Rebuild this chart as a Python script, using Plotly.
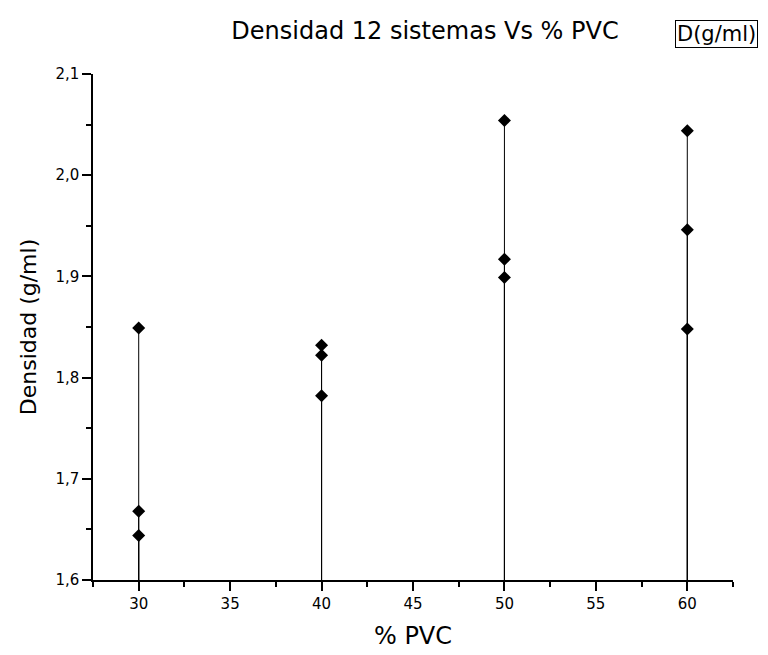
import plotly.graph_objects as go

# Data
pvc = [30, 30, 30, 40, 40, 40, 50, 50, 50, 60, 60, 60]
densidad = [1.849, 1.668, 1.644, 1.832, 1.822, 1.782,
            2.054, 1.917, 1.899, 2.044, 1.946, 1.848]
y_min, y_max = 1.6, 2.1
x_min, x_max = 27.5, 62.5
series_name = "D(g/ml)"

# Drop lines from each point down to the axis base
drop_x, drop_y = [], []
for xv, yv in zip(pvc, densidad):
    drop_x += [xv, xv, None]
    drop_y += [y_min, yv, None]

FONT = "DejaVu Sans, Liberation Sans, Arial, sans-serif"

fig = go.Figure()
fig.add_trace(go.Scatter(x=drop_x, y=drop_y, mode="lines",
                         line=dict(color="black", width=1),
                         hoverinfo="skip", showlegend=False))
fig.add_trace(go.Scatter(x=pvc, y=densidad, mode="markers", name=series_name,
                         marker=dict(symbol="diamond", size=10, color="black"),
                         showlegend=False, cliponaxis=False))

# page body has an 8px margin; layout numbers below are compensated for it
fig.update_layout(
    width=768, height=655,
    paper_bgcolor="white", plot_bgcolor="white",
    margin=dict(l=85, r=43, t=66, b=83),
    separators=",.",
    font=dict(family=FONT, color="black"),
    title=dict(text="Densidad 12 sistemas Vs % PVC", x=417/768, xanchor="center",
               y=1 - 23/655, yanchor="middle", font=dict(size=24, family=FONT)),
    annotations=[dict(text=series_name, xref="paper", yref="paper",
                      x=(667 - 85) / 640, y=(572 - 26) / 506,
                      xanchor="left", yanchor="middle", showarrow=False,
                      bordercolor="black", borderwidth=1, borderpad=1,
                      font=dict(size=21, family=FONT))],
)
fig.update_xaxes(range=[x_min, x_max], tick0=30, dtick=5, showgrid=False, zeroline=False,
                 showline=True, linecolor="black", linewidth=1.5,
                 ticks="outside", ticklen=9, tickwidth=1.5, tickcolor="black",
                 minor=dict(ticks="outside", ticklen=5, tickwidth=1.5, tickcolor="black",
                            dtick=2.5, tick0=27.5, showgrid=False),
                 tickfont=dict(size=15),
                 title=dict(text="% PVC", font=dict(size=24), standoff=15))
fig.update_yaxes(range=[y_min, y_max], tick0=1.6, dtick=0.1, tickformat=".1f",
                 showgrid=False, zeroline=False,
                 showline=True, linecolor="black", linewidth=1.5,
                 ticks="outside", ticklen=9, tickwidth=1.5, tickcolor="black",
                 minor=dict(ticks="outside", ticklen=5, tickwidth=1.5, tickcolor="black",
                            dtick=0.05, tick0=1.6, showgrid=False),
                 tickfont=dict(size=15),
                 title=dict(text="Densidad (g/ml)", font=dict(size=22), standoff=13))

fig.write_html("out.html")
